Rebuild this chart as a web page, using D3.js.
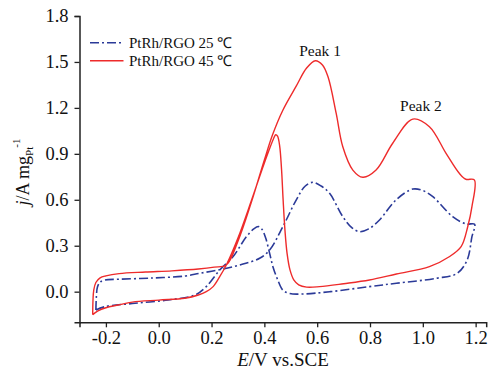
<!DOCTYPE html>
<html><head><meta charset="utf-8">
<script src="https://cdn.jsdelivr.net/npm/d3@7"></script>
<style>
html,body{margin:0;padding:0;background:#fff;}
svg{display:block;}
text{font-family:"Liberation Serif","Times New Roman",serif;fill:#111;}
</style></head>
<body><svg id="c" width="488" height="371"></svg>
<script>
// ---- data ----
const xTicks = [-0.2, 0.0, 0.2, 0.4, 0.6, 0.8, 1.0, 1.2];
const yTicks = [0.0, 0.3, 0.6, 0.9, 1.2, 1.5, 1.8];
const seriesNames = ["PtRh/RGO 25 \u2103", "PtRh/RGO 45 \u2103"];
const peakLabels = ["Peak 1", "Peak 2"];
const peakPos = [[0.611, 1.539], [0.993, 1.182]];

// PtRh/RGO 25 °C (closed CV loop)
const blueE = [-0.238,-0.236,-0.232,-0.222,-0.204,-0.153,-0.027,0.099,0.155,0.22,0.281,0.33,0.382,0.42,0.47,0.521,0.555,0.584,0.615,0.647,0.697,0.73,0.76,0.795,0.836,0.899,0.962,1.0,1.038,1.113,1.164,1.196,1.186,1.168,1.13,1.05,0.9,0.798,0.65,0.546,0.496,0.47,0.45,0.433,0.42,0.405,0.39,0.378,0.36,0.332,0.281,0.231,0.18,0.137,0.036,-0.09,-0.204,-0.238];
const blueJ = [-0.12,-0.03,0.03,0.062,0.076,0.081,0.089,0.102,0.12,0.14,0.163,0.185,0.218,0.272,0.424,0.6,0.69,0.714,0.69,0.642,0.49,0.42,0.392,0.41,0.468,0.6,0.67,0.66,0.62,0.49,0.442,0.44,0.359,0.207,0.12,0.087,0.055,0.033,0.0,-0.015,-0.012,0.01,0.08,0.16,0.25,0.35,0.41,0.425,0.41,0.359,0.228,0.142,0.033,-0.022,-0.054,-0.076,-0.098,-0.12];

// PtRh/RGO 45 °C (closed CV loop)
const redE = [-0.25,-0.249,-0.246,-0.238,-0.222,-0.2,-0.15,-0.05,0.05,0.15,0.21,0.256,0.30,0.35,0.40,0.43,0.47,0.52,0.56,0.593,0.62,0.641,0.672,0.697,0.735,0.773,0.823,0.886,0.962,1.025,1.088,1.138,1.163,1.195,1.186,1.17,1.145,1.10,1.025,0.90,0.798,0.70,0.609,0.56,0.53,0.512,0.497,0.486,0.478,0.471,0.465,0.458,0.45,0.443,0.435,0.40,0.35,0.30,0.256,0.231,0.206,0.18,0.15,0.099,0.0,-0.1,-0.153,-0.2,-0.23,-0.25];
const redJ = [-0.15,-0.06,0.01,0.06,0.09,0.103,0.118,0.128,0.136,0.148,0.16,0.174,0.33,0.58,0.86,1.02,1.185,1.34,1.46,1.508,1.48,1.403,1.164,0.946,0.794,0.747,0.794,0.969,1.127,1.077,0.903,0.773,0.734,0.73,0.555,0.424,0.294,0.228,0.163,0.115,0.076,0.052,0.033,0.03,0.045,0.075,0.142,0.25,0.4,0.6,0.8,0.95,1.015,1.025,1.0,0.84,0.59,0.35,0.174,0.098,0.033,0.0,-0.022,-0.043,-0.055,-0.068,-0.087,-0.105,-0.125,-0.15];

const colors = ["#2b3a98", "#ee2b2b"];

// ---- chart ----
const svg = d3.select("#c");
const x = d3.scaleLinear().domain([-0.3, 1.24]).range([79.5, 486.2]);
const y = d3.scaleLinear().domain([-0.2, 1.8]).range([322.3, 16]);

const line = d3.line().x(d => x(d[0])).y(d => y(d[1])).curve(d3.curveCatmullRom.alpha(0.5));
const blue = blueE.map((e, i) => [e, blueJ[i]]);
const red = redE.map((e, i) => [e, redJ[i]]);

svg.append("path").attr("d", line(blue)).attr("fill", "none")
  .attr("stroke", colors[0]).attr("stroke-width", 1.6).attr("stroke-dasharray", "9,3,2,3");
svg.append("path").attr("d", line(red)).attr("fill", "none")
  .attr("stroke", colors[1]).attr("stroke-width", 1.4);

// axes
const fmt = d => d3.format(".1f")(d).replace("\u2212", "-");
const xAxis = d3.axisBottom(x).tickValues(xTicks).tickFormat(fmt).tickSizeOuter(0).tickSize(5).tickPadding(4);
const yAxis = d3.axisLeft(y).tickValues(yTicks).tickFormat(fmt).tickSizeOuter(0).tickSize(5).tickPadding(6);
const gx = svg.append("g").attr("transform", `translate(0,${y.range()[0]})`).call(xAxis);
const gy = svg.append("g").attr("transform", `translate(${x.range()[0]},0)`).call(yAxis);
[gx, gy].forEach(g => {
  g.select(".domain").attr("stroke", "#222").attr("stroke-width", 1.5);
  g.selectAll(".tick line").attr("stroke", "#222").attr("stroke-width", 1.3);
  g.selectAll(".tick text").attr("font-size", 18.5).attr("fill", "#111")
    .attr("font-family", '"Liberation Serif", serif');
});

// axis titles
const xt = svg.append("text").attr("x", 283).attr("y", 366).attr("text-anchor", "middle").attr("font-size", 19);
xt.append("tspan").attr("font-style", "italic").text("E");
xt.append("tspan").text("/V vs.SCE");

const yt = svg.append("text").attr("transform", "translate(29,172) rotate(-90)").attr("text-anchor", "middle").attr("font-size", 18);
yt.append("tspan").attr("font-style", "italic").text("j");
yt.append("tspan").text("/A mg");
yt.append("tspan").attr("font-size", 11).attr("dy", 4).text("Pt");
yt.append("tspan").attr("font-size", 11).attr("dy", -13).attr("dx", -1).text("-1");

// legend
seriesNames.forEach((n, i) => {
  const ly = 42.7 + i * 18;
  svg.append("line").attr("x1", 90).attr("x2", 123.5).attr("y1", ly).attr("y2", ly)
    .attr("stroke", colors[i]).attr("stroke-width", i === 0 ? 1.6 : 1.4)
    .attr("stroke-dasharray", i === 0 ? "9,3,2,3" : null);
  svg.append("text").attr("x", 129).attr("y", ly + 5).attr("font-size", 15).text(n);
});

// peak labels
peakLabels.forEach((p, i) => {
  svg.append("text").attr("x", x(peakPos[i][0])).attr("y", y(peakPos[i][1]))
    .attr("text-anchor", "middle").attr("font-size", 15.5).text(p);
});
</script></body></html>
